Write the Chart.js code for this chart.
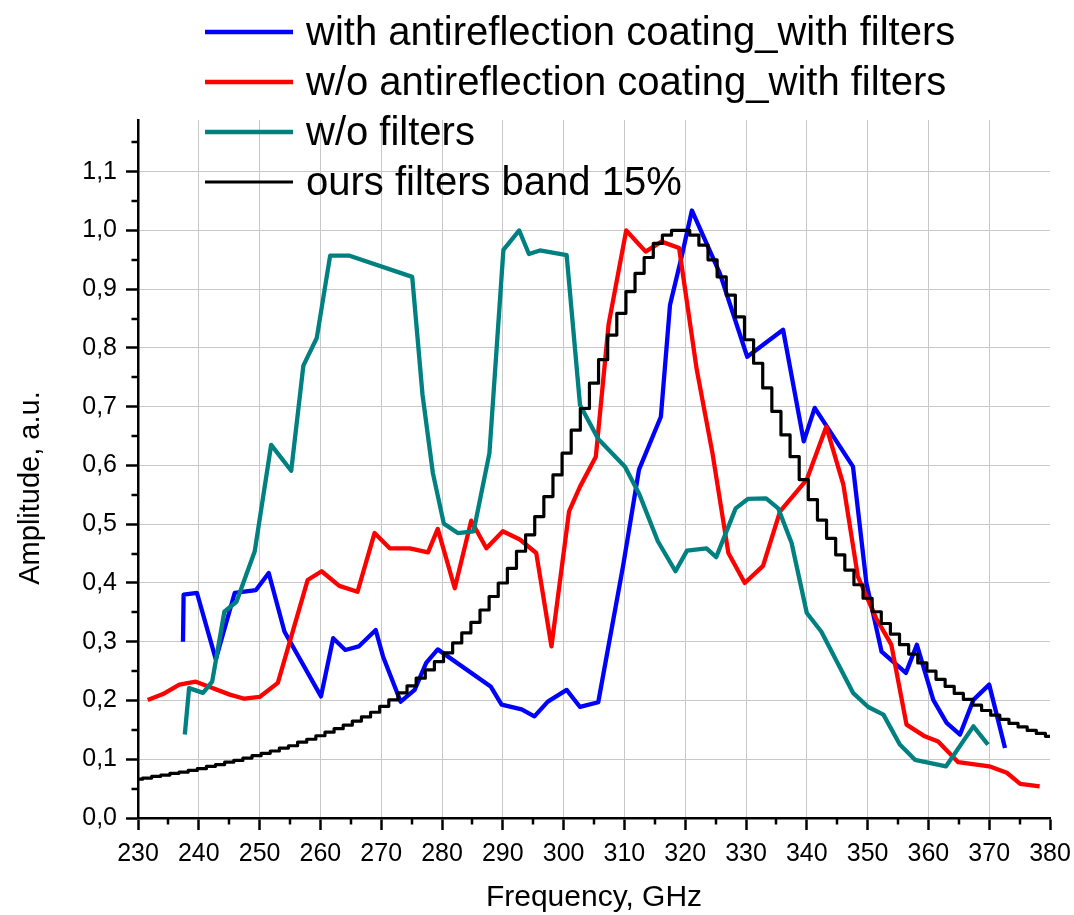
<!DOCTYPE html>
<html>
<head>
<meta charset="utf-8">
<script src="https://cdn.jsdelivr.net/npm/chart.js@4/dist/chart.umd.min.js"></script>
<style>
  html, body { margin: 0; padding: 0; background: #fff; }
  #wrap { width: 1074px; height: 915px; }
</style>
</head>
<body>
<div id="wrap"><canvas id="c" width="1074" height="915"></canvas></div>
<script>
// ---- Data ----
const seriesLabels = [
  'with antireflection coating_with filters',
  'w/o antireflection coating_with filters',
  'w/o filters',
  'ours filters band 15%'
];

const blueX = [237.4, 237.5, 239.7, 242.8, 245.9, 249.4, 251.5, 254.1, 260.1, 262.1, 264.1, 266.3, 269.1, 270.3, 273.2, 275.5, 277.4, 279.3, 288.0, 289.8, 293.1, 295.2, 297.4, 300.5, 302.7, 305.7, 309.8, 312.4, 316.0, 317.5, 319.4, 321.1, 325.7, 330.2, 336.1, 339.5, 341.3, 347.6, 349.8, 352.3, 356.3, 358.1, 360.8, 363.0, 365.2, 367.4, 370.0, 372.6];
const blueY = [0.300, 0.380, 0.383, 0.270, 0.383, 0.388, 0.417, 0.317, 0.207, 0.306, 0.286, 0.292, 0.320, 0.275, 0.198, 0.218, 0.264, 0.287, 0.224, 0.193, 0.185, 0.173, 0.198, 0.218, 0.189, 0.197, 0.430, 0.593, 0.683, 0.873, 0.955, 1.034, 0.927, 0.785, 0.831, 0.641, 0.698, 0.598, 0.400, 0.283, 0.247, 0.295, 0.201, 0.162, 0.142, 0.201, 0.227, 0.119];

const redX = [231.6, 234.1, 236.8, 239.5, 241.8, 245.1, 247.5, 250.0, 253.0, 257.9, 260.2, 263.1, 266.1, 268.9, 271.4, 274.7, 277.7, 279.3, 282.1, 284.8, 287.3, 290.0, 292.8, 295.5, 298.0, 300.9, 302.7, 305.3, 307.4, 310.3, 313.5, 316.1, 319.0, 321.9, 324.5, 327.1, 329.8, 332.8, 335.6, 340.0, 343.2, 346.0, 348.4, 351.4, 353.9, 356.4, 359.4, 361.6, 364.9, 370.0, 372.9, 375.1, 378.3];
const redY = [0.201, 0.211, 0.227, 0.232, 0.223, 0.210, 0.203, 0.206, 0.230, 0.405, 0.420, 0.395, 0.385, 0.485, 0.459, 0.459, 0.452, 0.492, 0.391, 0.506, 0.459, 0.488, 0.474, 0.451, 0.292, 0.522, 0.564, 0.615, 0.840, 1.000, 0.964, 0.981, 0.970, 0.763, 0.620, 0.451, 0.400, 0.429, 0.522, 0.576, 0.666, 0.568, 0.411, 0.340, 0.295, 0.159, 0.139, 0.130, 0.095, 0.088, 0.077, 0.058, 0.054];

const tealX = [237.7, 238.4, 240.7, 242.2, 244.2, 246.2, 249.2, 251.9, 255.2, 257.2, 259.4, 261.6, 264.8, 275.1, 276.8, 278.5, 280.3, 282.6, 285.2, 287.8, 290.1, 292.7, 294.3, 296.1, 300.5, 302.7, 305.7, 310.1, 312.5, 315.5, 318.4, 320.3, 323.5, 325.1, 328.3, 330.3, 333.3, 335.3, 337.5, 340.0, 342.4, 347.6, 350.1, 352.6, 355.3, 357.8, 362.9, 367.4, 369.8];
const tealY = [0.142, 0.221, 0.213, 0.232, 0.351, 0.368, 0.454, 0.635, 0.591, 0.770, 0.817, 0.957, 0.957, 0.921, 0.720, 0.587, 0.501, 0.485, 0.488, 0.621, 0.967, 1.000, 0.960, 0.966, 0.958, 0.703, 0.645, 0.598, 0.550, 0.471, 0.420, 0.455, 0.459, 0.444, 0.527, 0.543, 0.544, 0.527, 0.468, 0.349, 0.317, 0.213, 0.189, 0.176, 0.125, 0.099, 0.088, 0.156, 0.125];

const blackX = [230.0, 231.5, 233.0, 234.5, 236.0, 237.5, 239.0, 240.5, 242.0, 243.5, 245.0, 246.5, 248.0, 249.5, 251.0, 252.5, 254.0, 255.5, 257.0, 258.5, 260.0, 261.5, 263.0, 264.5, 266.0, 267.5, 269.0, 270.5, 272.0, 273.5, 275.0, 276.5, 278.0, 279.5, 281.0, 282.5, 284.0, 285.5, 287.0, 288.5, 290.0, 291.5, 293.0, 294.5, 296.0, 297.5, 299.0, 300.5, 302.0, 303.5, 305.0, 306.5, 308.0, 309.5, 311.0, 312.5, 314.0, 315.5, 317.0, 318.5, 320.0, 321.5, 323.0, 324.5, 326.0, 327.5, 329.0, 330.5, 332.0, 333.5, 335.0, 336.5, 338.0, 339.5, 341.0, 342.5, 344.0, 345.5, 347.0, 348.5, 350.0, 351.5, 353.0, 354.5, 356.0, 357.5, 359.0, 360.5, 362.0, 363.5, 365.0, 366.5, 368.0, 369.5, 371.0, 372.5, 374.0, 375.5, 377.0, 378.5, 380.0];
const blackY = [0.066, 0.068, 0.071, 0.073, 0.076, 0.078, 0.081, 0.084, 0.088, 0.091, 0.095, 0.098, 0.102, 0.106, 0.110, 0.114, 0.119, 0.123, 0.129, 0.134, 0.140, 0.146, 0.152, 0.158, 0.165, 0.172, 0.180, 0.190, 0.201, 0.213, 0.225, 0.238, 0.252, 0.266, 0.281, 0.298, 0.315, 0.333, 0.354, 0.377, 0.400, 0.425, 0.454, 0.482, 0.513, 0.547, 0.584, 0.621, 0.660, 0.697, 0.740, 0.780, 0.822, 0.859, 0.896, 0.927, 0.954, 0.978, 0.992, 1.000, 1.000, 0.992, 0.975, 0.950, 0.921, 0.890, 0.853, 0.814, 0.774, 0.732, 0.692, 0.652, 0.615, 0.576, 0.542, 0.507, 0.476, 0.448, 0.422, 0.397, 0.374, 0.351, 0.331, 0.313, 0.295, 0.279, 0.264, 0.250, 0.236, 0.224, 0.212, 0.202, 0.192, 0.183, 0.175, 0.168, 0.161, 0.155, 0.149, 0.144, 0.139];

const xTickStep = 10;
const yTickStep = 0.1;

// ---- build chart ----
const zip = (xs, ys) => xs.map((x, i) => ({ x: x, y: ys[i] }));
const FONT = "'Liberation Sans', Arial, Helvetica, sans-serif";
const GRID = '#c8c8c8';

const extras = {
  id: 'extras',
  afterDraw(chart) {
    const ctx = chart.ctx;
    const xs = chart.scales.x, ys = chart.scales.y;
    const area = chart.chartArea;
    ctx.save();
    // minor ticks
    ctx.strokeStyle = '#000';
    ctx.lineWidth = 2.5;
    ctx.beginPath();
    for (let v = xs.min + xTickStep / 2; v < xs.max; v += xTickStep) {
      const px = Math.round(xs.getPixelForValue(v));
      ctx.moveTo(px, area.bottom);
      ctx.lineTo(px, area.bottom + 6.5);
    }
    for (let v = ys.min + yTickStep / 2; v < ys.max; v += yTickStep) {
      const py = Math.round(ys.getPixelForValue(v));
      ctx.moveTo(area.left, py);
      ctx.lineTo(area.left - 6.5, py);
    }
    ctx.stroke();

    // axis titles
    ctx.fillStyle = '#000';
    ctx.textAlign = 'center';
    ctx.textBaseline = 'middle';
    ctx.font = '30px ' + FONT;
    ctx.fillText('Frequency, GHz', (area.left + area.right) / 2, 898);
    ctx.font = '29px ' + FONT;
    ctx.save();
    ctx.translate(31, 488);
    ctx.rotate(-Math.PI / 2);
    ctx.fillText('Amplitude, a.u.', 0, 0);
    ctx.restore();

    // legend
    const ds = chart.data.datasets;
    const rows = [32, 82, 132, 182];
    ctx.font = '40px ' + FONT;
    ctx.textAlign = 'left';
    ctx.textBaseline = 'middle';
    ds.forEach((d, i) => {
      ctx.strokeStyle = d.borderColor;
      ctx.lineWidth = i === 3 ? 3 : 4.5;
      ctx.beginPath();
      ctx.moveTo(205, rows[i]);
      ctx.lineTo(293, rows[i]);
      ctx.stroke();
      ctx.fillStyle = '#000';
      ctx.fillText(d.label, 306, rows[i] + 2);
    });
    ctx.restore();
  }
};

new Chart(document.getElementById('c'), {
  type: 'line',
  data: {
    datasets: [
      { label: seriesLabels[0], data: zip(blueX, blueY), borderColor: '#0000ff', borderWidth: 4.3, order: 4 },
      { label: seriesLabels[1], data: zip(redX, redY), borderColor: '#ff0000', borderWidth: 4.3, order: 3 },
      { label: seriesLabels[2], data: zip(tealX, tealY), borderColor: '#008080', borderWidth: 4.3, order: 2 },
      { label: seriesLabels[3], data: zip(blackX, blackY), borderColor: '#000000', borderWidth: 3.2, stepped: 'middle', order: 1 }
    ]
  },
  options: {
    responsive: false,
    animation: false,
    events: [],
    elements: { point: { radius: 0 }, line: { tension: 0, borderJoinStyle: 'round', borderCapStyle: 'butt' } },
    layout: { padding: { left: 0, right: 24, top: 120, bottom: 0 } },
    plugins: { legend: { display: false }, tooltip: { enabled: false }, title: { display: false } },
    scales: {
      x: {
        type: 'linear',
        min: 230, max: 380,
        afterFit(s) { s.height = 97; s.paddingLeft = 0; s.paddingRight = 0; },
        ticks: {
          stepSize: xTickStep,
          includeBounds: false,
          autoSkip: false,
          maxRotation: 0,
          padding: 9,
          color: '#000',
          font: { family: FONT, size: 25 }
        },
        grid: {
          color: c => (c.tick && c.tick.value === 380) ? 'rgba(0,0,0,0)' : GRID,
          lineWidth: 1, drawTicks: true, tickLength: 12, tickColor: '#000', tickWidth: 2.5
        },
        border: { display: true, color: '#000', width: 2.5 }
      },
      y: {
        type: 'linear',
        min: 0, max: 1.188,
        afterFit(s) { s.width = 138; s.paddingTop = 0; s.paddingBottom = 0; },
        ticks: {
          stepSize: yTickStep,
          includeBounds: false,
          autoSkip: false,
          padding: 9,
          color: '#000',
          font: { family: FONT, size: 25 },
          callback: v => v.toFixed(1).replace('.', ',')
        },
        grid: { color: GRID, lineWidth: 1, drawTicks: true, tickLength: 12, tickColor: '#000', tickWidth: 2.5 },
        border: { display: true, color: '#000', width: 2.5 }
      }
    }
  },
  plugins: [extras]
});
</script>
</body>
</html>
